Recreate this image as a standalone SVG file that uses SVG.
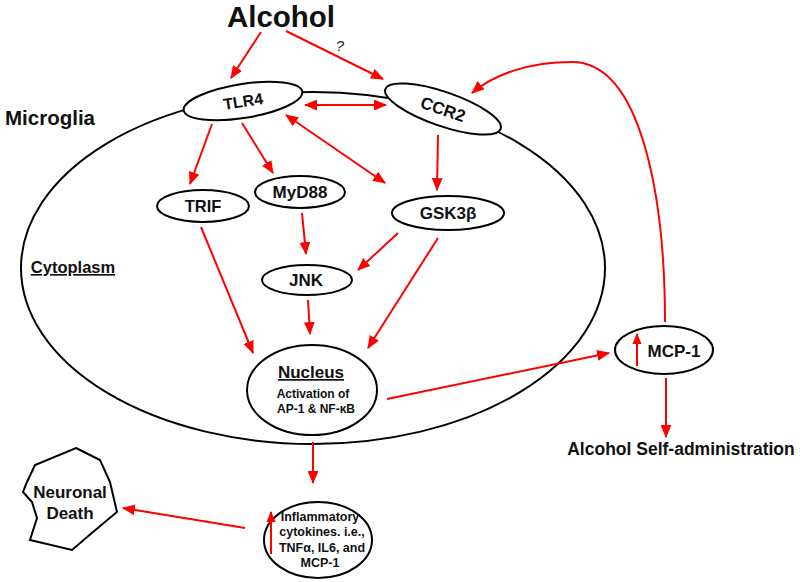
<svg xmlns="http://www.w3.org/2000/svg" width="800" height="582" viewBox="0 0 800 582">
<defs>
<marker id="ah" viewBox="0 0 12 10" refX="11" refY="5" markerWidth="13" markerHeight="11" markerUnits="userSpaceOnUse" orient="auto-start-reverse">
<path d="M0,0 L12,5 L0,10 z" fill="#ff0000"/>
</marker>
<marker id="ahs" viewBox="0 0 12 10" refX="11" refY="5" markerWidth="11" markerHeight="10" markerUnits="userSpaceOnUse" orient="auto">
<path d="M0,0 L12,5 L0,10 z" fill="#ff0000"/>
</marker>
</defs>
<style>
.t{font-family:"Liberation Sans",Arial,sans-serif;font-weight:bold;fill:#111;text-anchor:middle}
.node{fill:#fff;stroke:#000;stroke-width:2}
.cell{fill:none;stroke:#000;stroke-width:2}
.c{fill:none;stroke:#ff0000;stroke-width:2;marker-end:url(#ah)}
.d{fill:none;stroke:#ff0000;stroke-width:2;marker-start:url(#ah);marker-end:url(#ah)}
.up{fill:none;stroke:#ff0000;stroke-width:2;marker-end:url(#ahs)}
</style>
<rect width="800" height="582" fill="#fff"/>

<g id="cell">
<ellipse class="cell" cx="313" cy="268" rx="292" ry="176"/>
<text class="t" x="50" y="125" font-size="20.5">Microglia</text>
<text class="t" x="73" y="273" font-size="16.5" text-decoration="underline">Cytoplasm</text>
</g>

<g id="alcohol"><text class="t" x="281" y="27" font-size="29.5">Alcohol</text></g>

<g id="connectors">
<line class="c" x1="261" y1="32" x2="231" y2="78"/>
<line class="c" x1="286" y1="31" x2="383" y2="79"/>
<text x="340" y="51" font-family="Liberation Sans,Arial,sans-serif" font-style="italic" font-size="15" fill="#222" text-anchor="middle">?</text>
<line class="d" x1="305" y1="105" x2="386" y2="105"/>
<path class="c" d="M665,322 C665,200 642,62 572,62 C530,62 494,74 472,93"/>
<line class="c" x1="212" y1="124" x2="190" y2="184"/>
<line class="c" x1="242" y1="123" x2="273" y2="173"/>
<line class="d" x1="286" y1="115" x2="385" y2="183"/>
<line class="c" x1="438" y1="135" x2="437" y2="190"/>
<line class="c" x1="302" y1="213" x2="306" y2="254"/>
<line class="c" x1="398" y1="233" x2="358" y2="270"/>
<line class="c" x1="201" y1="227" x2="253" y2="353"/>
<line class="c" x1="308" y1="300" x2="310" y2="334"/>
<line class="c" x1="438" y1="238" x2="368" y2="348"/>
<line class="c" x1="387" y1="399" x2="609" y2="353"/>
<line class="c" x1="666" y1="378" x2="666" y2="437"/>
<line class="c" x1="313" y1="442" x2="313" y2="483"/>
<line class="c" x1="245" y1="528" x2="123" y2="508"/>
</g>

<g id="tlr4">
<ellipse class="node" cx="243" cy="101" rx="60" ry="17" transform="rotate(-9 243 101)"/>
<text class="t" x="243" y="107" font-size="16" transform="rotate(-9 243 101)">TLR4</text>
</g>
<g id="ccr2">
<ellipse class="node" cx="443" cy="109" rx="61" ry="17" transform="rotate(19 443 109)"/>
<text class="t" x="443" y="115" font-size="17" transform="rotate(19 443 109)">CCR2</text>
</g>
<g id="trif">
<ellipse class="node" cx="203" cy="206" rx="46" ry="16"/>
<text class="t" x="203" y="212" font-size="16.5">TRIF</text>
</g>
<g id="myd88">
<ellipse class="node" cx="300" cy="192" rx="45" ry="16"/>
<text class="t" x="300" y="198" font-size="17">MyD88</text>
</g>
<g id="gsk3b">
<ellipse class="node" cx="448" cy="213" rx="56" ry="17"/>
<text class="t" x="448" y="219" font-size="17">GSK3β</text>
</g>
<g id="jnk">
<ellipse class="node" cx="307" cy="280" rx="45" ry="15"/>
<text class="t" x="306" y="286" font-size="17">JNK</text>
</g>
<g id="nucleus">
<ellipse class="node" cx="312" cy="390" rx="65" ry="45"/>
<text class="t" x="311" y="378" font-size="17" text-decoration="underline">Nucleus</text>
<text class="t" x="313" y="398" font-size="12">Activation of</text>
<text class="t" x="316" y="413" font-size="12">AP-1 &amp; NF-κB</text>
</g>
<g id="mcp1">
<ellipse class="node" cx="664" cy="350" rx="49" ry="24"/>
<line class="up" x1="637" y1="366" x2="637" y2="334"/>
<text class="t" x="674" y="357" font-size="17">MCP-1</text>
</g>
<g id="selfadmin"><text class="t" x="681" y="455" font-size="17.5">Alcohol Self-administration</text></g>
<g id="cytokines">
<ellipse class="node" cx="318" cy="540" rx="54" ry="38"/>
<line class="up" x1="271" y1="554" x2="271" y2="512"/>
<text class="t" x="320" y="521" font-size="12.5">Inflammatory</text>
<text class="t" x="322" y="536" font-size="12.5">cytokines. i.e.,</text>
<text class="t" x="322" y="552" font-size="12.5">TNFα, IL6, and</text>
<text class="t" x="320" y="567" font-size="12.5">MCP-1</text>
</g>
<g id="neuronal">
<polygon points="76,448 100,460 110,482 117,512 93,532 72,550 30,540 37,518 32,502 23,492 27,482 35,465" fill="#fff" stroke="#000" stroke-width="2"/>
<text class="t" x="70" y="498" font-size="17">Neuronal</text>
<text class="t" x="70" y="519" font-size="17">Death</text>
</g>
</svg>
